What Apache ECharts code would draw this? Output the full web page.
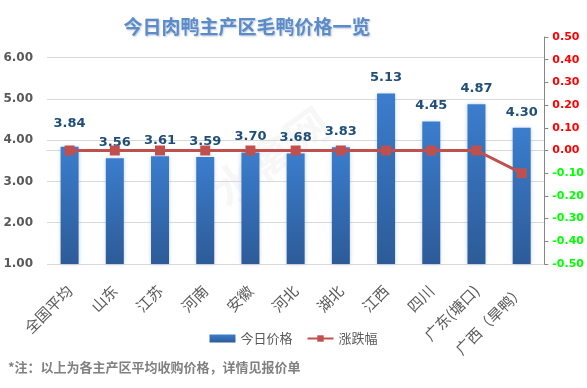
<!DOCTYPE html>
<html><head><meta charset="utf-8">
<script src="https://cdn.jsdelivr.net/npm/echarts@6/dist/echarts.min.js"></script>
<style>html,body{margin:0;padding:0;background:#fff}#c{width:587px;height:388px}</style>
</head><body><div id="c"></div>
<script>
var categories = ['全国平均','山东','江苏','河南','安徽','河北','湖北','江西','四川','广东(塘口)','广西（旱鸭）'];
var prices = [3.84,3.56,3.61,3.59,3.70,3.68,3.83,5.13,4.45,4.87,4.30];
var changes = [0,0,0,0,0,0,0,0,0,0,-0.10];
var leftTicks = {min:1, max:6.5, interval:1};
var rightTicks = {min:-0.5, max:0.5, interval:0.1};

var font = '"Microsoft YaHei","Noto Sans CJK SC",sans-serif';
var chart = echarts.init(document.getElementById('c'));
var barData = prices.map(function(v,i){
  var d = {value:v};
  if(i===0){ d.label = {offset:[0,-8]}; }
  return d;
});
chart.setOption({
  animation:false,
  backgroundColor:'#fff',
  title:{
    text:'今日肉鸭主产区毛鸭价格一览',
    left:242, top:12, textAlign:'center',
    textStyle:{fontFamily:font, fontSize:19, fontWeight:'bold', color:'#5b8bc9',
      textShadowColor:'rgba(40,70,120,0.3)', textShadowBlur:2, textShadowOffsetX:1, textShadowOffsetY:1}
  },
  graphic:[{
    type:'text', left:8, top:361,
    style:{text:'*注：以上为各主产区平均收购价格，详情见报价单', font:'bold 13px '+font, fill:'#808080'}
  },{
    type:'text', left:205, top:100, rotation:Math.PI/5,
    style:{text:'水禽网', font:'bold 44px '+font, fill:'rgba(200,200,200,0.15)'}
  }],
  legend:{
    top:327, left:'center', itemGap:14, itemWidth:26, itemHeight:8,
    textStyle:{fontFamily:font, fontSize:13, color:'#595959'},
    data:[{name:'今日价格', icon:'rect'},{name:'涨跌幅'}]
  },
  grid:{left:47, right:42, top:37, bottom:124},
  xAxis:{
    type:'category', data:categories,
    axisLine:{lineStyle:{color:'#d9d9d9', width:1}},
    axisTick:{show:false},
    axisLabel:{rotate:45, margin:24, interval:0, color:'#595959', fontSize:15, fontFamily:font}
  },
  yAxis:[{
    type:'value', min:leftTicks.min, max:leftTicks.max, interval:leftTicks.interval,
    axisLine:{show:false}, axisTick:{show:false},
    axisLabel:{color:'#595959', fontSize:12, fontWeight:'bold', fontFamily:'"DejaVu Sans",sans-serif', margin:14,
      formatter:function(v){ return v>6.01 ? '' : v.toFixed(2); }},
    splitLine:{lineStyle:{color:['#d9d9d9','#d9d9d9','#d9d9d9','#d9d9d9','#d9d9d9','#d9d9d9','rgba(0,0,0,0)'], width:1}}
  },{
    type:'value', min:rightTicks.min, max:rightTicks.max, interval:rightTicks.interval,
    position:'right',
    axisLine:{show:true, lineStyle:{color:'#868686'}},
    axisTick:{show:true, inside:false, length:4, lineStyle:{color:'#868686'}},
    splitLine:{show:false},
    axisLabel:{fontSize:11, fontWeight:'bold', fontFamily:'"DejaVu Sans",sans-serif', margin:8,
      formatter:function(v){ return v.toFixed(2); },
      color:function(v){ return Number(v) < -0.001 ? '#00ff00' : '#ff0000'; }}
  }],
  series:[{
    name:'今日价格', type:'bar', data:barData, barWidth:18,
    itemStyle:{
      color:new echarts.graphic.LinearGradient(0,0,0,1,[{offset:0,color:'#3b7dcd'},{offset:1,color:'#2d5b98'}]),
      shadowColor:'rgba(120,160,220,0.45)', shadowBlur:4
    },
    label:{show:true, position:'top', distance:9, color:'#1f4e79', fontSize:13, fontWeight:'bold',
      fontFamily:'"DejaVu Sans",sans-serif', formatter:function(p){return p.value.toFixed(2);}}
  },{
    name:'涨跌幅', type:'line', yAxisIndex:1, data:changes,
    symbol:'rect', symbolSize:10,
    lineStyle:{color:'#c0504d', width:3},
    itemStyle:{color:'#c0504d'}
  }]
});
</script></body></html>
